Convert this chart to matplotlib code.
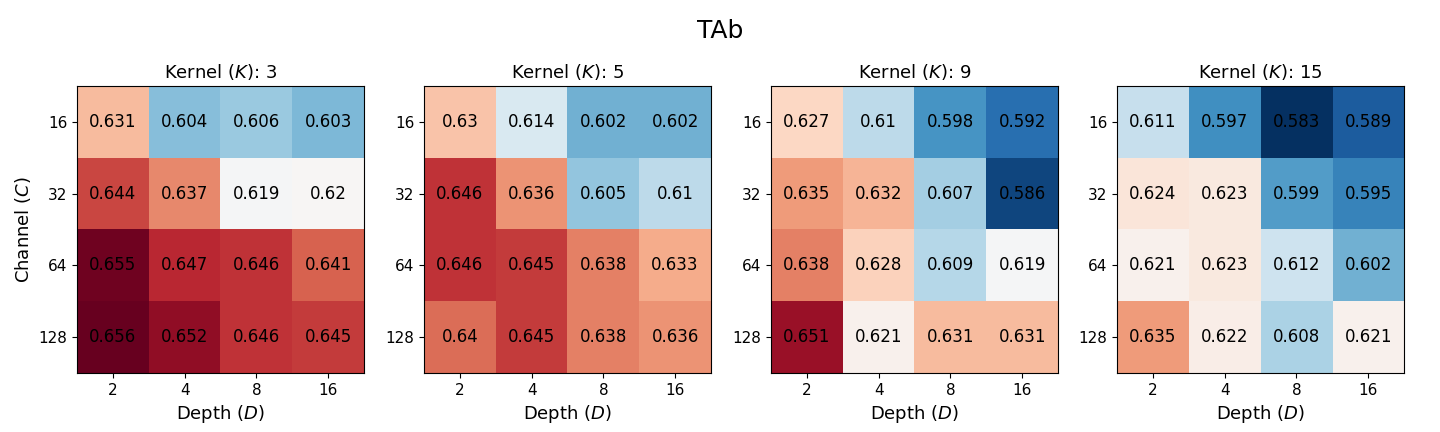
import numpy as np
import matplotlib
matplotlib.use('Agg')
import matplotlib.pyplot as plt

kernels = [3, 5, 9, 15]
depths = ['2', '4', '8', '16']
channels = ['16', '32', '64', '128']

# rows = channel, cols = depth
k3 = [[0.631, 0.604, 0.606, 0.603],
      [0.644, 0.637, 0.619, 0.62],
      [0.655, 0.647, 0.646, 0.641],
      [0.656, 0.652, 0.646, 0.645]]
k5 = [[0.63, 0.614, 0.602, 0.602],
      [0.646, 0.636, 0.605, 0.61],
      [0.646, 0.645, 0.638, 0.633],
      [0.64, 0.645, 0.638, 0.636]]
k9 = [[0.627, 0.61, 0.598, 0.592],
      [0.635, 0.632, 0.607, 0.586],
      [0.638, 0.628, 0.609, 0.619],
      [0.651, 0.621, 0.631, 0.631]]
k15 = [[0.611, 0.597, 0.583, 0.589],
       [0.624, 0.623, 0.599, 0.595],
       [0.621, 0.623, 0.612, 0.602],
       [0.635, 0.622, 0.608, 0.621]]

grids = [k3, k5, k9, k15]
vmin = min(np.min(g) for g in grids)
vmax = max(np.max(g) for g in grids)

fig = plt.figure(figsize=(14.4, 4.32), dpi=100)
fig.suptitle('TAb', fontsize=18, y=0.955)

lefts = [77, 424, 771, 1117]
for i, (k, g) in enumerate(zip(kernels, grids)):
    ax = fig.add_axes([lefts[i] / 1440, 59 / 432, 287 / 1440, 287 / 432])
    arr = np.array(g)
    ax.imshow(arr, cmap='RdBu_r', vmin=vmin, vmax=vmax, aspect='auto')
    for r in range(arr.shape[0]):
        for c in range(arr.shape[1]):
            ax.text(c, r, '{:g}'.format(arr[r, c]), ha='center', va='center',
                    fontsize=12, color='black')
    ax.set_xticks(range(len(depths)))
    ax.set_xticklabels(depths, fontsize=11)
    ax.set_yticks(range(len(channels)))
    ax.set_yticklabels(channels, fontsize=11)
    ax.set_xlabel('Depth ($D$)', fontsize=13)
    if i == 0:
        ax.set_ylabel('Channel ($C$)', fontsize=13)
    ax.set_title('Kernel ($K$): {}'.format(k), fontsize=13)

fig.savefig('out.png', dpi=100)
